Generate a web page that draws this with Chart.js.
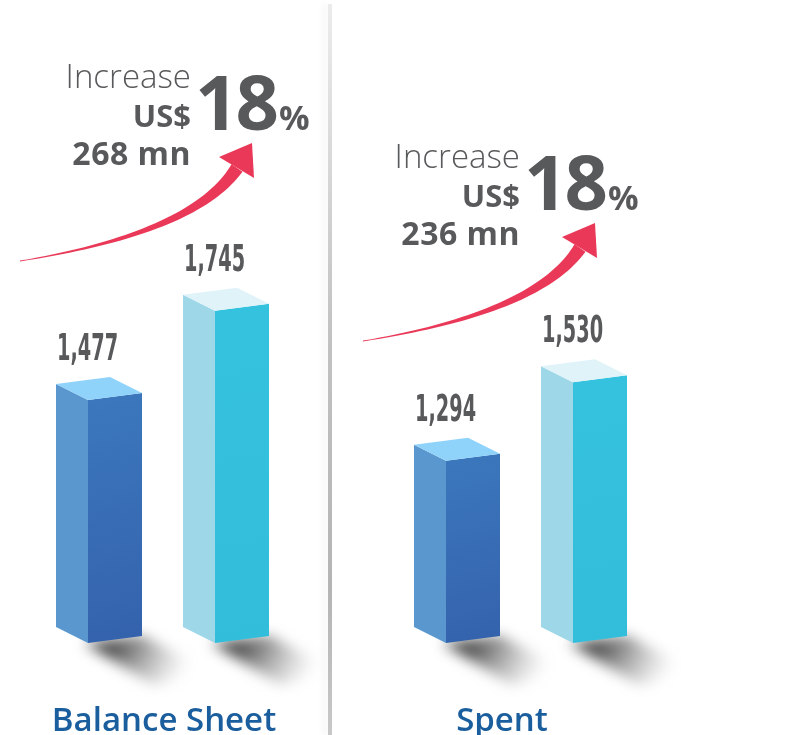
<!DOCTYPE html>
<html>
<head>
<meta charset="utf-8">
<script src="https://cdn.jsdelivr.net/npm/chart.js@4"></script>
<style>
  html, body { margin: 0; padding: 0; background: #fff; }
  #wrap { position: relative; width: 795px; height: 735px; overflow: hidden; }
  .panel { position: absolute; top: 0; height: 735px; }
  #p0 { left: 0; width: 330px; }
  #p1 { left: 330px; width: 465px; }
  #divider {
    position: absolute; left: 328px; top: 4px; width: 4px; height: 731px;
    background: linear-gradient(to bottom, #ececec, #c2c2c2 45%, #b4b4b4 80%, #c8c8c8);
    box-shadow: -5px 0 6px rgba(0,0,0,0.05);
  }
</style>
</head>
<body>
<div id="wrap">
  <div class="panel" id="p0"><canvas id="c0"></canvas></div>
  <div id="divider"></div>
  <div class="panel" id="p1"><canvas id="c1"></canvas></div>
</div>
<script>
// data
const categories = ["Balance Sheet", "Spent"];
const previous = [1477, 1294];
const current = [1745, 1530];
const increaseMn = [268, 236];
const increasePct = [18, 18];

// per-panel placement of the decorations (canvas-relative)
const layout = [
  { textDx: 0, textDy: 0, arrowDx: 0, arrowDy: 0, titleX: 164, padLeft: 35.5, padRight: 40.5 },
  { textDx: -1, textDy: 80, arrowDx: 13, arrowDy: 80, titleX: 172, padLeft: 63.5, padRight: 147.5 }
];

const barColors = [
  { side: '#5a97cf', frontTop: '#3b77bc', frontBot: '#3462ac', top: '#8fd3fb' },
  { side: '#9ed8e8', frontTop: '#35c2de', frontBot: '#32bedb', top: '#dff3f9' }
];
const GREY = '#58595b';
const DEPTH = 32, RISE = 16, SLOPE = 7;

function geom(chart, el) {
  const p = el.getProps(['x', 'y', 'width'], true);
  const xl = p.x - p.width / 2, xr = p.x + p.width / 2;
  // bars stand on the bottom of the axis range, not on zero
  return { xl: xl, xr: xr, fx: xl + DEPTH, top: p.y, base: chart.chartArea.bottom };
}

function drawArrow(ctx, dx, dy) {
  const P0 = [20 + dx, 261 + dy], P1 = [194 + dx, 233 + dy], P2 = [237 + dx, 168 + dy];
  const left = [], right = [];
  const N = 40;
  for (let i = 0; i <= N; i++) {
    const t = i / N, u = 1 - t;
    const x = u * u * P0[0] + 2 * u * t * P1[0] + t * t * P2[0];
    const y = u * u * P0[1] + 2 * u * t * P1[1] + t * t * P2[1];
    const tx = 2 * u * (P1[0] - P0[0]) + 2 * t * (P2[0] - P1[0]);
    const ty = 2 * u * (P1[1] - P0[1]) + 2 * t * (P2[1] - P1[1]);
    const len = Math.hypot(tx, ty);
    const nx = -ty / len, ny = tx / len;
    const w = (0.8 + 12.5 * Math.pow(t, 1.3)) / 2;
    left.push([x + nx * w, y + ny * w]);
    right.push([x - nx * w, y - ny * w]);
  }
  ctx.save();
  ctx.fillStyle = '#ea3958';
  ctx.beginPath();
  left.forEach((p, i) => i ? ctx.lineTo(p[0], p[1]) : ctx.moveTo(p[0], p[1]));
  right.reverse().forEach(p => ctx.lineTo(p[0], p[1]));
  ctx.closePath();
  ctx.fill();
  ctx.beginPath();
  ctx.moveTo(252 + dx, 143 + dy);
  ctx.lineTo(219 + dx, 157 + dy);
  ctx.lineTo(254 + dx, 178 + dy);
  ctx.closePath();
  ctx.fill();
  ctx.restore();
}

const bar3d = {
  id: 'bar3d',
  beforeDatasetsDraw(chart) {
    // soft shadows cast to the lower right
    const ctx = chart.ctx;
    chart.getDatasetMeta(0).data.forEach(el => {
      const g = geom(chart, el);
      ctx.save();
      ctx.filter = 'blur(7px)';
      const grad = ctx.createLinearGradient(g.fx + 27, g.base - 3, g.fx + 95, g.base + 34);
      grad.addColorStop(0, 'rgba(40,40,40,0.85)');
      grad.addColorStop(0.45, 'rgba(90,90,90,0.5)');
      grad.addColorStop(1, 'rgba(140,140,140,0)');
      ctx.fillStyle = grad;
      ctx.beginPath();
      ctx.moveTo(g.fx - 4, g.base);
      ctx.lineTo(g.xr, g.base - SLOPE);
      ctx.lineTo(g.xr + 68, g.base + 28);
      ctx.lineTo(g.fx + 66, g.base + 42);
      ctx.closePath();
      ctx.fill();
      ctx.restore();
    });
  },
  afterDatasetsDraw(chart) {
    const ctx = chart.ctx;
    const ds = chart.data.datasets[0];
    chart.getDatasetMeta(0).data.forEach((el, i) => {
      const g = geom(chart, el), c = barColors[i];
      ctx.save();
      // left face
      ctx.fillStyle = c.side;
      ctx.beginPath();
      ctx.moveTo(g.xl, g.top - RISE);
      ctx.lineTo(g.fx, g.top);
      ctx.lineTo(g.fx, g.base);
      ctx.lineTo(g.xl, g.base - RISE);
      ctx.closePath();
      ctx.fill();
      // front face
      const fg = ctx.createLinearGradient(g.fx, g.top, g.xr, g.base);
      fg.addColorStop(0, c.frontTop);
      fg.addColorStop(1, c.frontBot);
      ctx.fillStyle = fg;
      ctx.beginPath();
      ctx.moveTo(g.fx, g.top);
      ctx.lineTo(g.xr, g.top - SLOPE);
      ctx.lineTo(g.xr, g.base - SLOPE);
      ctx.lineTo(g.fx, g.base);
      ctx.closePath();
      ctx.fill();
      // top face
      ctx.fillStyle = c.top;
      ctx.beginPath();
      ctx.moveTo(g.xl, g.top - RISE);
      ctx.lineTo(g.fx, g.top);
      ctx.lineTo(g.xr, g.top - SLOPE);
      ctx.lineTo(g.xr - DEPTH, g.top - RISE - SLOPE);
      ctx.closePath();
      ctx.fill();
      // value label, condensed
      ctx.fillStyle = GREY;
      ctx.font = 'bold 37px "Liberation Sans Narrow", "DejaVu Sans Condensed", sans-serif';
      ctx.textBaseline = 'alphabetic';
      ctx.translate(g.xl + 1, g.top - 40);
      ctx.scale(0.58, 1);
      ctx.fillText(ds.data[i].toLocaleString('en-US'), 0, 0);
      ctx.restore();
    });
  },
  afterDraw(chart, args, opts) {
    const ctx = chart.ctx;
    const k = opts.panel, L = layout[k];
    const tx = L.textDx, ty = L.textDy;
    drawArrow(ctx, L.arrowDx, L.arrowDy);
    ctx.save();
    ctx.fillStyle = GREY;
    ctx.textBaseline = 'alphabetic';
    ctx.textAlign = 'right';
    ctx.font = '300 33px "Open Sans", "Noto Sans", sans-serif';
    ctx.fillText('Increase', 191 + tx, 88 + ty);
    ctx.font = 'bold 31px "Open Sans", "Noto Sans", sans-serif';
    ctx.fillText('US$', 191 + tx, 127 + ty);
    ctx.font = 'bold 32px "Open Sans", "Noto Sans", sans-serif';
    ctx.letterSpacing = '0.5px';
    ctx.fillText(increaseMn[k] + ' mn', 191 + tx, 165 + ty);
    ctx.textAlign = 'left';
    ctx.font = 'bold 76px "Open Sans", "Noto Sans", sans-serif';
    ctx.letterSpacing = '-3px';
    ctx.fillText(String(increasePct[k]), 195 + tx, 130 + ty);
    ctx.letterSpacing = '0px';
    ctx.font = 'bold 34px "Open Sans", "Noto Sans", sans-serif';
    ctx.fillText('%', 279 + tx, 130 + ty);
    // category title
    ctx.fillStyle = '#1b5e9e';
    ctx.textAlign = 'center';
    ctx.font = '600 33px "Open Sans", "Noto Sans", sans-serif';
    ctx.fillText(categories[k], L.titleX, 731);
    ctx.restore();
  }
};

function makeChart(k) {
  return new Chart(document.getElementById('c' + k), {
    type: 'bar',
    data: {
      labels: ['Previous', 'Current'],
      datasets: [{
        data: [previous[k], current[k]],
        backgroundColor: 'rgba(0,0,0,0)',
        borderWidth: 0,
        barThickness: 86
      }]
    },
    options: {
      responsive: true,
      maintainAspectRatio: false,
      animation: false,
      layout: { padding: { top: 93, bottom: 92, left: layout[k].padLeft, right: layout[k].padRight } },
      plugins: { legend: { display: false }, tooltip: { enabled: false }, bar3d: { panel: k } },
      scales: {
        x: { display: false },
        y: { display: false, min: 746, max: 2400 }
      }
    },
    plugins: [bar3d]
  });
}

categories.forEach((_, k) => makeChart(k));
</script>
</body>
</html>
